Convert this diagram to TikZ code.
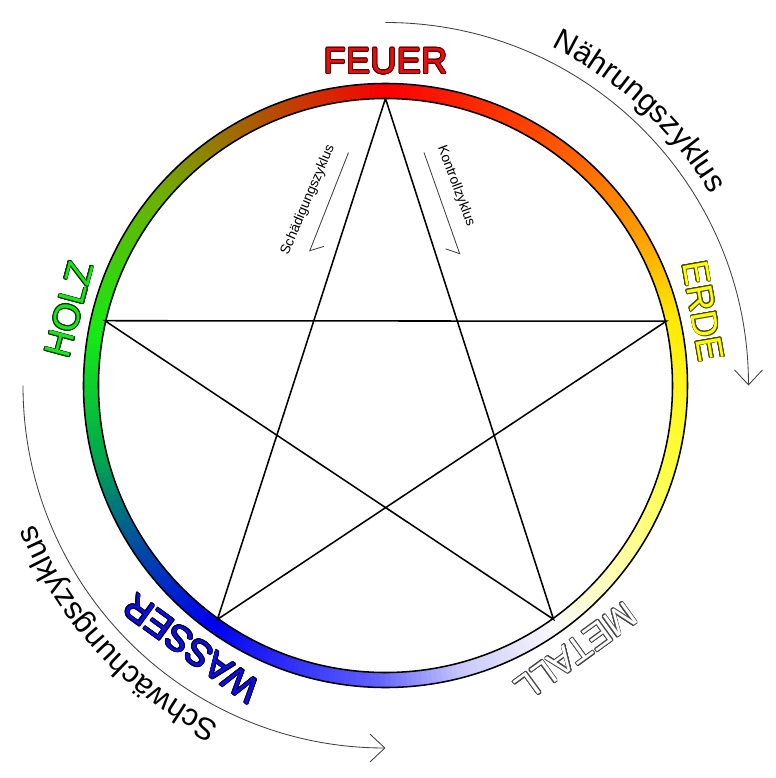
\documentclass[tikz,border=0pt]{standalone}
\usepackage{fontspec}
\setmainfont{Liberation Sans}
\usepackage[copies]{contour}
\usetikzlibrary{arrows.meta,decorations.text}
\contourlength{0.6pt}

% ring colours, clockwise from the top
\definecolor{rc0}{RGB}{250,0,0}
\definecolor{rc1}{RGB}{255,70,0}
\definecolor{rc2}{RGB}{255,160,0}
\definecolor{rc3}{RGB}{255,235,0}
\definecolor{rc4}{RGB}{255,255,60}
\definecolor{rc5}{RGB}{255,255,180}
\definecolor{rc6}{RGB}{250,250,250}
\definecolor{rc7}{RGB}{200,200,255}
\definecolor{rc8}{RGB}{95,95,255}
\definecolor{rc9}{RGB}{0,0,240}
\definecolor{rc10}{RGB}{0,80,160}
\definecolor{rc11}{RGB}{0,165,80}
\definecolor{rc12}{RGB}{20,235,20}
\definecolor{rc13}{RGB}{110,175,0}
\definecolor{rc14}{RGB}{175,85,0}

\definecolor{feuerrot}{RGB}{230,15,15}
\definecolor{feuerrand}{RGB}{90,0,0}
\definecolor{erdegelb}{RGB}{255,255,0}
\definecolor{erderand}{RGB}{70,70,0}
\definecolor{holzgruen}{RGB}{30,225,30}
\definecolor{holzrand}{RGB}{0,60,0}
\definecolor{wasserblau}{RGB}{15,15,215}
\definecolor{wasserrand}{RGB}{0,0,70}
\definecolor{metallrand}{RGB}{70,70,70}

\newcommand{\zyklusfont}{\fontsize{22}{26}\selectfont}

\tikzset{
  ringrand/.style={line width=1.1pt},
  sternlinie/.style={line width=1.1pt},
  elem/.style={font=\fontsize{26}{30}\selectfont, inner sep=0pt},
  zyklus/.style={line width=0.6pt, draw=black!75},
  kleintext/.style={font=\fontsize{9.8}{11}\selectfont, inner sep=0pt},
}

\begin{document}
\begin{tikzpicture}[x=0.25mm,y=0.25mm]
\useasboundingbox (-385.5,-392.5) rectangle (390.5,385.5);

% coloured ring
\foreach \aa/\ab/\ca/\cb in {90/60/rc0/rc1, 60/30/rc1/rc2, 30/13/rc2/rc3,
    13/-15/rc3/rc4, -15/-40/rc4/rc5, -40/-55/rc5/rc6, -55/-75/rc6/rc7,
    -75/-92/rc7/rc8, -92/-126/rc8/rc9, -126/-148/rc9/rc10,
    -148/-165/rc10/rc11, -165/-190/rc11/rc12, -190/-220/rc12/rc13,
    -220/-245/rc13/rc14, -245/-270/rc14/rc0} {
  \pgfmathtruncatemacro\n{\aa-\ab}
  \foreach \i in {1,...,\n} {
    \pgfmathsetmacro\s{\aa-\i+1}
    \pgfmathsetmacro\e{\aa-\i-0.4}
    \pgfmathsetmacro\p{100*(\i-0.5)/\n}
    \fill[\cb!\p!\ca] (\s:287) arc[start angle=\s, end angle=\e, radius=287]
      -- (\e:302) arc[start angle=\e, end angle=\s, radius=302] -- cycle;
  }
}
\draw[ringrand] (0,0) circle[radius=287];
\draw[ringrand] (0,0) circle[radius=302];

% pentagram
\coordinate (feuer) at (90:287);
\coordinate (erde) at (12.9:288);
\coordinate (metall) at (-54.3:288);
\coordinate (wasser) at (234.3:288);
\coordinate (holz) at (167:288);
\draw[sternlinie] (feuer) -- (wasser) -- (erde) -- (holz) -- (metall) -- cycle;

% element names
\node[elem] (feuer-lbl) at (90:324) {\color{feuerrot}\contour{feuerrand}{FEUER}};
\node[elem, rotate=-80] (erde-lbl) at (13.2:326) {\color{erdegelb}\contour{erderand}{ERDE}};
\node[elem, rotate=-144] (metall-lbl) at (-54.4:327) {\color{white}\contour{metallrand}{METALL}};
\node[elem, rotate=144] (wasser-lbl) at (233.6:326) {\color{wasserblau}\contour{wasserrand}{WASSER}};
\node[elem, rotate=75] (holz-lbl) at (166.5:325) {\color{holzgruen}\contour{holzrand}{HOLZ}};

% outer cycles
\coordinate (naehr-start) at (90:363);
\draw[zyklus, -{Straight Barb[length=3.75mm,width=7mm]}] (naehr-start)
  arc[start angle=90, end angle=0, radius=363];
\coordinate (naehr-text) at (72:377);
\path[decorate, decoration={text along path, text align=center,
    text={|\zyklusfont|Nährungszyklus}}] (naehr-text)
  arc[start angle=72, end angle=22.4, radius=377];

\coordinate (schw-start) at (180:362.5);
\draw[zyklus, -{Straight Barb[length=3.75mm,width=7mm]}] (schw-start)
  arc[start angle=180, end angle=270, radius=362.5];
\coordinate (schw-text) at (250:377);
\path[decorate, decoration={text along path, text align=center,
    text={|\zyklusfont|Schwächungszyklus}}] (schw-text)
  arc[start angle=250, end angle=195.5, radius=377];

% inner cycles
\coordinate (schaed-a) at (-37,233);
\coordinate (schaed-b) at (-76,134);
\draw[zyklus, -{Straight Barb[harpoon,length=2.3mm,width=5.8mm]}] (schaed-a) -- (schaed-b);
\node[kleintext, rotate=67] (schaed-lbl) at (-77.5,185.5) {Schädigungszyklus};

\coordinate (kontr-a) at (38.5,233);
\coordinate (kontr-b) at (74.5,131);
\draw[zyklus, -{Straight Barb[harpoon,swap,length=2.3mm,width=5.8mm]}] (kontr-a) -- (kontr-b);
\node[kleintext, rotate=-69.5] (kontr-lbl) at (70.5,199.5) {Kontrollzyklus};
\end{tikzpicture}
\end{document}
